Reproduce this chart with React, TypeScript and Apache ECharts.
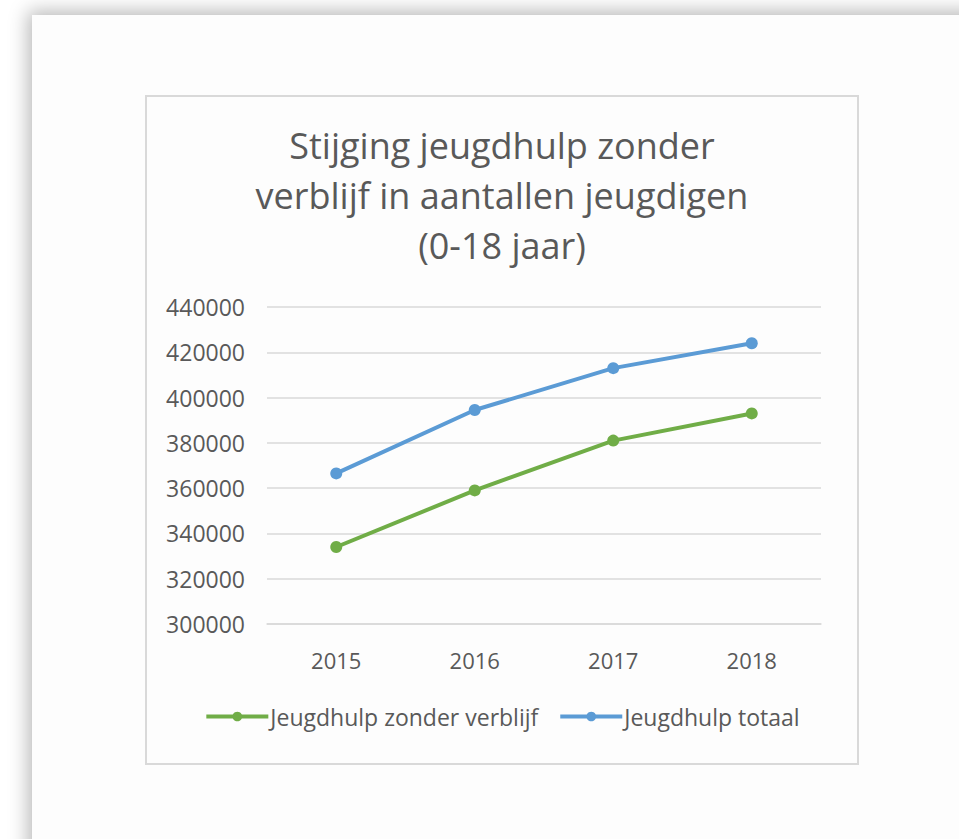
import React, { useEffect, useRef } from "react";
import * as echarts from "echarts";

const years = ["2015", "2016", "2017", "2018"];
const zonderVerblijf = [334000, 359000, 381000, 393000];
const totaal = [366500, 394500, 413000, 424000];
const yMin = 300000;
const yMax = 440000;
const yStep = 20000;

const FONT = "'Open Sans', sans-serif";

export default function App() {
  const ref = useRef<HTMLDivElement>(null);
  useEffect(() => {
    if (!ref.current) return;
    const chart = echarts.init(ref.current, undefined, { renderer: "svg" });
    chart.setOption({
      animation: false,
      backgroundColor: "#fdfdfd",
      title: {
        text: "Stijging jeugdhulp zonder\nverblijf in aantallen jeugdigen\n(0-18 jaar)",
        left: "center",
        top: 18,
        textStyle: {
          fontFamily: FONT,
          fontSize: 36,
          fontWeight: "normal",
          color: "#595959",
          lineHeight: 50,
        },
      },
      legend: {
        bottom: 30,
        left: "center",
        itemWidth: 62,
        itemHeight: 12,
        itemGap: 20,
        lineStyle: { width: 4 },
        textStyle: { fontFamily: FONT, fontSize: 23, color: "#595959", padding: [0, 0, 0, -3] },
        data: ["Jeugdhulp zonder verblijf", "Jeugdhulp totaal"],
      },
      grid: { left: 120, right: 36, top: 210, bottom: 139 },
      xAxis: {
        type: "category",
        data: years,
        boundaryGap: true,
        axisLine: { lineStyle: { color: "#d9d9d9", width: 1.5 } },
        axisTick: { show: false },
        axisLabel: { fontFamily: FONT, fontSize: 22, color: "#595959", margin: 25 },
      },
      yAxis: {
        type: "value",
        min: yMin,
        max: yMax,
        interval: yStep,
        axisLine: { show: false },
        axisTick: { show: false },
        splitLine: { lineStyle: { color: "#d9d9d9", width: 1.5 } },
        axisLabel: {
          fontFamily: FONT,
          fontSize: 23,
          color: "#595959",
          margin: 22,
          formatter: (v: number) => String(v),
        },
      },
      series: [
        {
          name: "Jeugdhulp zonder verblijf",
          type: "line",
          data: zonderVerblijf,
          symbol: "circle",
          symbolSize: 12,
          color: "#70ad47",
          lineStyle: { width: 4, color: "#70ad47" },
          itemStyle: { color: "#70ad47" },
        },
        {
          name: "Jeugdhulp totaal",
          type: "line",
          data: totaal,
          symbol: "circle",
          symbolSize: 12,
          color: "#5b9bd5",
          lineStyle: { width: 4, color: "#5b9bd5" },
          itemStyle: { color: "#5b9bd5" },
        },
      ],
    });
    return () => chart.dispose();
  }, []);

  return (
    <div style={{ position: "fixed", left: 0, top: 0, width: 959, height: 839, background: "#ffffff", overflow: "hidden" }}>
      <div
        style={{
          position: "absolute",
          left: 32,
          top: 15,
          width: 1000,
          height: 900,
          background: "#fdfdfd",
          boxShadow: "0 0 18px 4px rgba(0,0,0,0.28)",
        }}
      />
      <div
        ref={ref}
        style={{
          position: "absolute",
          left: 145,
          top: 95,
          width: 714,
          height: 670,
          boxSizing: "border-box",
          border: "2px solid #d9d9d9",
        }}
      />
    </div>
  );
}
